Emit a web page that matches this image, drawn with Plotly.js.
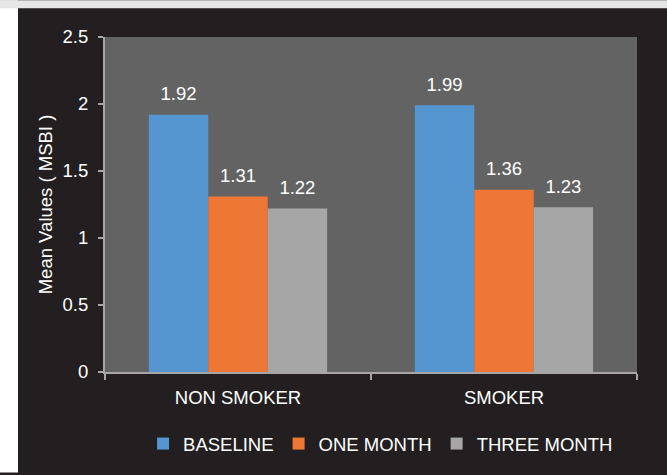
<!DOCTYPE html>
<html>
<head>
<meta charset="utf-8">
<script src="https://cdn.plot.ly/plotly-3.0.1.min.js"></script>
<style>html,body{margin:0;padding:0;background:#fff;}#chart{width:667px;height:475px;}</style>
</head>
<body>
<div id="chart"></div>
<script>
const categories = ["NON SMOKER", "SMOKER"];
const seriesNames = ["BASELINE", "ONE MONTH", "THREE MONTH"];
const baseline = [1.92, 1.99];
const oneMonth = [1.31, 1.36];
const threeMonth = [1.22, 1.23];
const yTicks = [0, 0.5, 1, 1.5, 2, 2.5];
const yTickLabels = ["0", "0.5", "1", "1.5", "2", "2.5"];

const values = [baseline, oneMonth, threeMonth];
const colors = ["#5596d0", "#ee7736", "#a6a6a6"];
const font = "Liberation Sans, Arial, sans-serif";
const fs = 18.5;

const traces = [];
values.forEach((v, i) => {
  traces.push({
    type: "bar", x: categories, y: v, name: seriesNames[i],
    offsetgroup: "g" + i, alignmentgroup: "a",
    marker: {color: colors[i], line: {width: 0}},
    hoverinfo: "skip"
  });
});
values.forEach((v, i) => {
  traces.push({
    type: "scatter", mode: "markers+text", x: categories, y: v,
    offsetgroup: "g" + i, alignmentgroup: "a",
    text: v.map(n => n.toFixed(2)), textposition: "top center",
    textfont: {family: font, size: fs, color: "#ffffff"},
    marker: {size: 14, opacity: 0}, showlegend: false, cliponaxis: false, hoverinfo: "skip"
  });
});

const W = 532, H = 337, L = 105, T = 37;
const layout = {
  width: 667, height: 475,
  margin: {l: L, r: 667 - L - W, t: T, b: 475 - T - H},
  paper_bgcolor: "#231f20",
  plot_bgcolor: "#636363",
  barmode: "group", scattermode: "group", bargap: 0.33, scattergap: 0.33, bargroupgap: 0,
  font: {family: font, size: fs, color: "#ffffff"},
  showlegend: true,
  legend: {orientation: "h", x: 0.518, xanchor: "center", y: -0.215, yanchor: "middle",
    font: {family: font, size: fs, color: "#ffffff"}, bgcolor: "rgba(0,0,0,0)", traceorder: "normal"},
  xaxis: {type: "category", showgrid: false, zeroline: false, showline: true,
    linecolor: "#a6a6a6", linewidth: 2, ticks: "outside", tickson: "boundaries",
    ticklen: 6, tickcolor: "#a6a6a6", tickwidth: 2, ticklabelstandoff: 8,
    tickfont: {family: font, size: fs, color: "#ffffff"}},
  yaxis: {range: [0, 2.5], tickvals: yTicks, ticktext: yTickLabels, showgrid: false, zeroline: false,
    showline: true, linecolor: "#a6a6a6", linewidth: 2, ticks: "outside", ticklen: 5,
    tickcolor: "#a6a6a6", tickwidth: 2, ticklabelstandoff: 6,
    tickfont: {family: font, size: fs, color: "#ffffff"},
    title: {text: "Mean Values ( MSBI )", standoff: 5, font: {family: font, size: fs, color: "#ffffff"}}},
  shapes: [
    {type: "rect", xref: "paper", yref: "paper", layer: "above",
     x0: (0 - L) / W, x1: (18 - L) / W, y0: (T + H - 475) / H, y1: (T + H) / H,
     fillcolor: "#ffffff", line: {width: 0}},
    {type: "rect", xref: "paper", yref: "paper", layer: "above",
     x0: (0 - L) / W, x1: (667 - L) / W, y0: (T + H - 8) / H, y1: (T + H) / H,
     fillcolor: "#e6e6e6", line: {width: 0}}
  ]
};
Plotly.newPlot("chart", traces, layout, {displayModeBar: false, staticPlot: true});
</script>
</body>
</html>
